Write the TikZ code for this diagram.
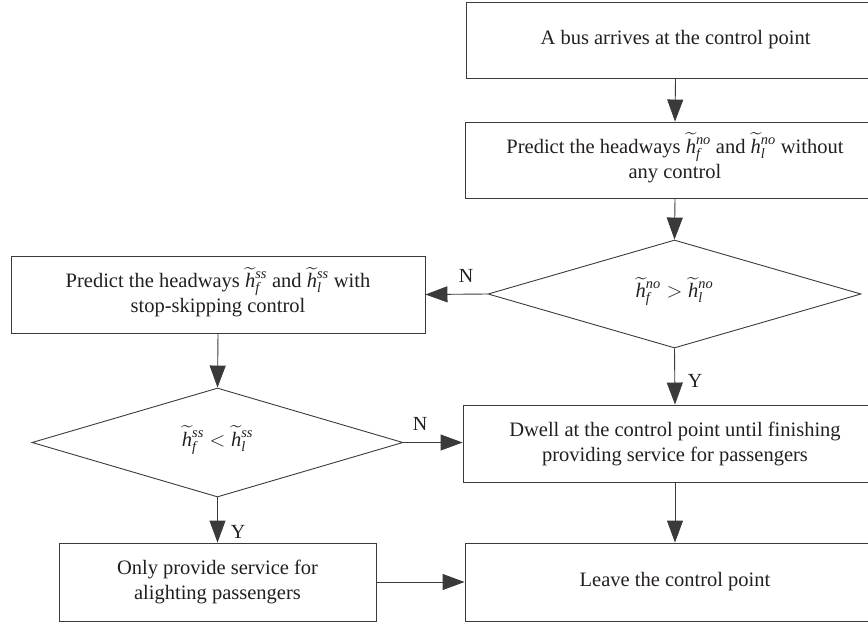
\documentclass[tikz,border=0pt]{standalone}
\usepackage{amsmath}
\usepackage{fontspec}
\setmainfont{Liberation Serif}
\usetikzlibrary{arrows.meta,shapes.geometric}
\definecolor{ln}{HTML}{3A3A3A}
\definecolor{tx}{HTML}{231F20}
\newcommand{\hv}[2]{{\smash[t]{\widetilde{\textit{h}}}\vphantom{\textit{h}}}_{\textit{#1}}^{\textit{#2}}}
\tikzset{
  box/.style={draw=ln,line width=0.9pt,rectangle,inner sep=0pt,align=center,text=tx,
    font=\fontsize{20.5}{25}\selectfont},
  dia/.style={draw=ln,line width=0.9pt,diamond,inner sep=0pt,text=tx,
    font=\fontsize{20.5}{25}\selectfont},
  arr/.style={draw=ln,line width=0.9pt,-{Triangle[length=22pt,width=16pt]}},
  lab/.style={text=tx,font=\fontsize{20}{22}\selectfont,inner sep=0pt}
}
\begin{document}
\begin{tikzpicture}[x=1pt,y=-1pt]
\useasboundingbox (0,0) rectangle (868,627);
\clip (0,0) rectangle (868,627);
\node[box,minimum width=419pt,minimum height=76pt] (b1) at (675.5,40) {A bus arrives at the control point};
\node[box,minimum width=420pt,minimum height=76pt] (b2) at (675,160) {Predict the headways $\hv{f}{no}$ and $\hv{l}{no}$ without\\any control};
\node[dia,minimum width=373pt,minimum height=108pt] (d1) at (674.5,294) {$\hv{f}{no} > \hv{l}{no}$};
\node[box,minimum width=414pt,minimum height=77pt] (lb) at (218,294.5) {Predict the headways $\hv{f}{ss}$ and $\hv{l}{ss}$ with\\stop-skipping control};
\node[dia,minimum width=371pt,minimum height=109pt] (d2) at (217.5,442.5) {$\hv{f}{ss} < \hv{l}{ss}$};
\node[box,minimum width=424pt,minimum height=77pt] (dw) at (675,443.5) {Dwell at the control point until finishing\\providing service for passengers};
\node[box,minimum width=317pt,minimum height=78pt] (on) at (217.5,582) {Only provide service for\\alighting passengers};
\node[box,minimum width=420pt,minimum height=78pt] (lv) at (675,582) {Leave the control point};
\draw[arr] (b1.south) -- (b2.north);
\draw[arr] (b2.south) -- (d1.north);
\draw[arr] (d1.west) -- (lb.east);
\draw[arr] (lb.south) -- (d2.north);
\draw[arr] (d1.south) -- (dw.north);
\draw[arr] (d2.east) -- (d2.east -| dw.west);
\draw[arr] (d2.south) -- (on.north);
\draw[arr] (on.east) -- (on.east -| lv.west);
\draw[arr] (dw.south) -- (lv.north);
\node[lab] (n1) at (466,276) {N};
\node[lab] (y1) at (695,381) {Y};
\node[lab] (n2) at (420,424) {N};
\node[lab] (y2) at (238,532) {Y};
\end{tikzpicture}
\end{document}
